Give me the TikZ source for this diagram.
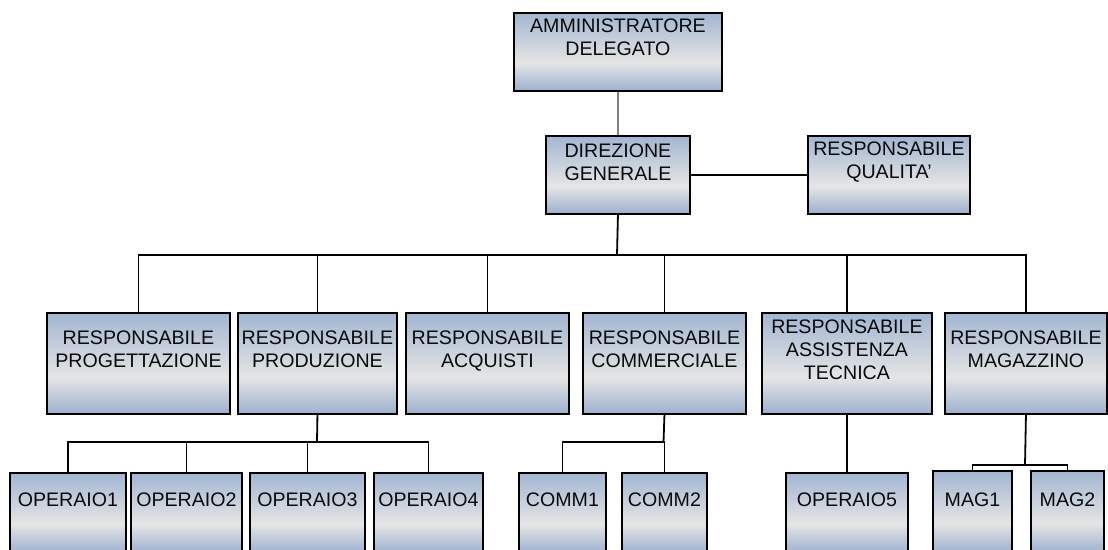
\documentclass[tikz,border=0pt]{standalone}
\usepackage{fontspec}
\setmainfont{Liberation Sans}
\definecolor{bbot}{RGB}{156,176,206}
\definecolor{btop}{RGB}{162,182,210}
\definecolor{gmid}{RGB}{229,229,229}
\definecolor{txt}{RGB}{10,10,10}
\pgfdeclareverticalshading{boxshade}{100bp}{color(0bp)=(bbot); color(25bp)=(bbot); color(43bp)=(gmid); color(75bp)=(btop); color(100bp)=(btop)}
\tikzset{
  box/.style={draw=black, line width=1.9pt, shading=boxshade, inner sep=0pt, rectangle},
  lbl/.style={inner sep=0pt, align=center, text=txt, font=\fontsize{19.6}{23}\selectfont},
  link/.style={draw=black, line width=1.8pt},
  glink/.style={draw=black!50, line width=1.8pt}
}
% #1 name, #2 x1, #3 y1, #4 x2, #5 y2, #6 text offset, #7 text
\newcommand\orgbox[7]{%
  \node[box, anchor=north west, minimum width=#4pt-#2pt, minimum height=#5pt-#3pt] (#1) at (#2,#3) {};
  \node[lbl, anchor=north] (#1t) at ([yshift=-#6pt]#1.north) {#7};
}
\begin{document}
\begin{tikzpicture}[x=1pt, y=-1pt]
\useasboundingbox (0,0) rectangle (1108,549);
\orgbox{AD}{513}{12}{721}{90}{7}{AMMINISTRATORE\\DELEGATO}
\orgbox{DG}{545}{135}{689}{213}{9}{DIREZIONE\\GENERALE}
\orgbox{RQ}{807}{135}{969}{213}{7}{RESPONSABILE\\QUALITA’}
% row 2
\orgbox{RP}{46}{312}{229}{413}{19}{RESPONSABILE\\PROGETTAZIONE}
\orgbox{RPR}{237}{312}{396}{413}{19}{RESPONSABILE\\PRODUZIONE}
\orgbox{RA}{405}{312}{568}{413}{19}{RESPONSABILE\\ACQUISTI}
\orgbox{RC}{582}{312}{745}{413}{19}{RESPONSABILE\\COMMERCIALE}
\orgbox{RAT}{761}{312}{931}{413}{8}{RESPONSABILE\\ASSISTENZA\\TECNICA}
\orgbox{RM}{944}{312}{1106}{413}{19}{RESPONSABILE\\MAGAZZINO}
% row 3
\orgbox{OP1}{9}{472}{125}{552}{21}{OPERAIO1}
\orgbox{OP2}{130}{472}{241}{552}{21}{OPERAIO2}
\orgbox{OP3}{249}{472}{364}{552}{21}{OPERAIO3}
\orgbox{OP4}{373}{472}{482}{552}{21}{OPERAIO4}
\orgbox{CM1}{518}{472}{605}{552}{21}{COMM1}
\orgbox{CM2}{621}{472}{706}{552}{21}{COMM2}
\orgbox{OP5}{785}{472}{907}{552}{21}{OPERAIO5}
\orgbox{MG1}{932}{470}{1011}{552}{23}{MAG1}
\orgbox{MG2}{1030}{470}{1103}{552}{23}{MAG2}
% connectors
\draw[glink] (AD.south) -- (DG.north);
\draw[link] (DG.east) -- (RQ.west);
\coordinate (b1) at (617,255);
\draw[link] (DG.south) -- (b1);
\foreach \n in {RP,RPR,RA,RC,RAT,RM} \draw[link] (b1) -| (\n.north);
\coordinate (b2) at (317,442);
\draw[link] (RPR.south) -- (b2);
\foreach \n in {OP1,OP2,OP3,OP4} \draw[link] (b2) -| (\n.north);
\coordinate (b3) at (663.5,442);
\draw[link] (RC.south) -- (b3);
\foreach \n in {CM1,CM2} \draw[link] (b3) -| (\n.north);
\draw[link] (RAT.south) -- (OP5.north);
\coordinate (b4) at (1025,465);
\draw[link] (RM.south) -- (b4);
\foreach \n in {MG1,MG2} \draw[link] (b4) -| (\n.north);
\end{tikzpicture}
\end{document}
